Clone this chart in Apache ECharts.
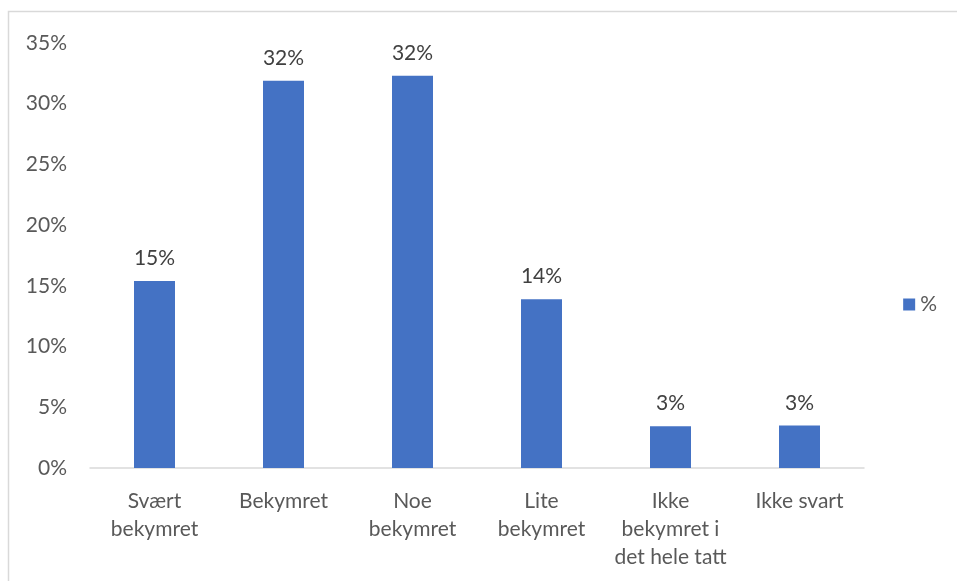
<!DOCTYPE html>
<html>
<head>
<meta charset="utf-8">
<script src="https://cdn.jsdelivr.net/npm/echarts@6/dist/echarts.min.js"></script>
<style>
html,body{margin:0;padding:0;background:#fff;}
#c{width:957px;height:581px;}
</style>
</head>
<body>
<div id="c"></div>
<script>
const categories = ["Svært\nbekymret", "Bekymret", "Noe\nbekymret", "Lite\nbekymret", "Ikke\nbekymret i\ndet hele tatt", "Ikke svart"];
const values = [15.4, 31.9, 32.3, 13.9, 3.44, 3.49];
const seriesName = "%";

const chart = echarts.init(document.getElementById('c'));
const font = 'Lato, "Open Sans", sans-serif';
chart.setOption({
  animation: false,
  backgroundColor: '#fff',
  graphic: [{
    type: 'rect',
    shape: {x: 8.5, y: 11.5, width: 1000, height: 1000},
    style: {fill: 'none', stroke: '#d9d9d9', lineWidth: 1.5},
    silent: true,
    z: -1
  }],
  grid: {left: 90, right: 93, top: 43, bottom: 113, containLabel: false},
  legend: {
    data: [seriesName],
    orient: 'vertical',
    right: 15,
    top: 289,
    itemWidth: 12,
    itemHeight: 12,
    itemGap: 8,
    icon: 'rect',
    textStyle: {fontFamily: font, fontSize: 21, color: '#595959'}
  },
  xAxis: {
    type: 'category',
    data: categories,
    axisLine: {lineStyle: {color: '#d9d9d9', width: 1.5}},
    axisTick: {show: false},
    axisLabel: {
      interval: 0,
      margin: 19,
      fontFamily: font,
      fontSize: 21,
      lineHeight: 28,
      color: '#595959'
    }
  },
  yAxis: {
    type: 'value',
    min: 0,
    max: 35,
    interval: 5,
    axisLine: {show: false},
    axisTick: {show: false},
    splitLine: {show: false},
    axisLabel: {
      margin: 23,
      fontFamily: font,
      fontSize: 21,
      color: '#595959',
      formatter: v => v + '%'
    }
  },
  series: [{
    name: seriesName,
    type: 'bar',
    data: values,
    barWidth: 41,
    itemStyle: {color: '#4472c4'},
    label: {
      show: true,
      position: 'top',
      distance: 12,
      fontFamily: font,
      fontSize: 21,
      color: '#404040',
      formatter: p => Math.round(p.value) + '%'
    }
  }]
});
</script>
</body>
</html>
